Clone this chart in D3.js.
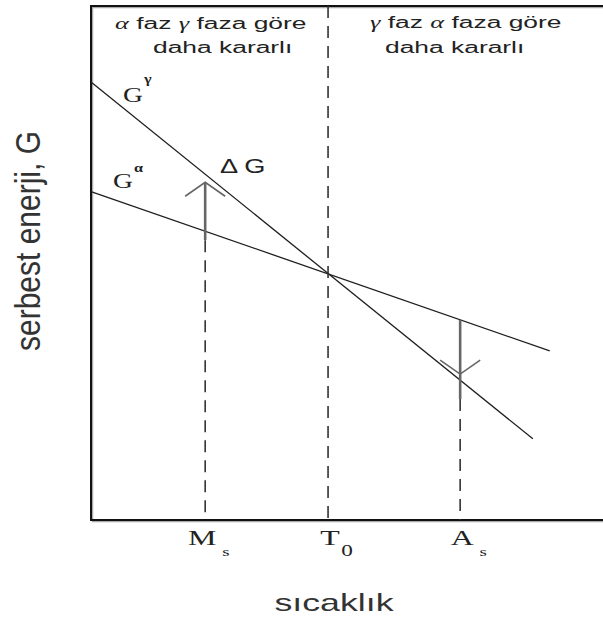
<!DOCTYPE html>
<html>
<head>
<meta charset="utf-8">
<script src="https://cdn.jsdelivr.net/npm/d3@7"></script>
<style>
  html, body { margin: 0; padding: 0; background: #fff; }
  svg { display: block; }
</style>
</head>
<body>
<svg id="chart" width="603" height="619"></svg>
<script>
// Temperature marks on the horizontal axis
const tickLetters = ["M", "T", "A"];
const tickSubs = ["s", "0", "s"];
const tickTemps = [22.3, 46.3, 72.1];

// Free energy lines, endpoints as [temperature, G]
const gammaTemps = [0, 86.3];
const gammaEnergy = [85.2, 15.8];
const alphaTemps = [0, 89.6];
const alphaEnergy = [63.9, 32.9];

// Region captions
const leftCaption = ["α faz γ faza göre", "daha kararlı"];
const rightCaption = ["γ faz α faza göre", "daha kararlı"];

const W = 603, H = 619;
const svg = d3.select("#chart");
const x = d3.scaleLinear().domain([0, 100]).range([91, W]);
const y = d3.scaleLinear().domain([0, 100]).range([520, 6]);

const ink = "#222";

// value of a straight G(T) line at temperature t
function lineAt(ts, gs, t) {
  return d3.scaleLinear().domain(ts).range(gs)(t);
}

// Frame: left, top and bottom edges, open on the right
const framePath = `M${W},${y(100)}H${x(0)}V${y(0)}H${W}`;
svg.append("path").attr("d", framePath)
  .attr("transform", "translate(1.5,1.5)")
  .attr("fill", "none").attr("stroke", "#aaa").attr("stroke-width", 1.5);
svg.append("path").attr("d", framePath)
  .attr("fill", "none").attr("stroke", "#111").attr("stroke-width", 2);

// Free energy curves
const line = d3.line().x(d => x(d[0])).y(d => y(d[1]));
svg.append("path")
  .attr("d", line(d3.zip(gammaTemps, gammaEnergy)))
  .attr("fill", "none").attr("stroke", "#1e1e1e").attr("stroke-width", 1.3);
svg.append("path")
  .attr("d", line(d3.zip(alphaTemps, alphaEnergy)))
  .attr("fill", "none").attr("stroke", "#1e1e1e").attr("stroke-width", 1.3);

// T0 guide across the whole plot
const t0 = tickTemps[1];
svg.append("line")
  .attr("x1", x(t0)).attr("x2", x(t0))
  .attr("y1", y(100)).attr("y2", y(0))
  .attr("stroke", "#333").attr("stroke-width", 1.6)
  .attr("stroke-dasharray", "12,8");

// Driving force arrows (ΔG) at Ms (upward) and As (downward)
const arrows = [
  { t: tickTemps[0], dir: -1, gap: 8, extend: 9 },
  { t: tickTemps[2], dir: 1, gap: 6, extend: 19 }
];
arrows.forEach(a => {
  const px = x(a.t);
  const ya = y(lineAt(alphaTemps, alphaEnergy, a.t));
  const yg = y(lineAt(gammaTemps, gammaEnergy, a.t));
  const lower = Math.max(ya, yg);
  const shaftTop = a.dir < 0 ? yg + a.gap : ya;
  const shaftBottom = lower + a.extend;
  const apex = a.dir < 0 ? yg + a.gap : yg - a.gap;

  // dashed drop line down to the axis
  svg.append("line")
    .attr("x1", px).attr("x2", px)
    .attr("y1", shaftBottom).attr("y2", y(0))
    .attr("stroke", "#333").attr("stroke-width", 1.6)
    .attr("stroke-dasharray", "12,8");

  svg.append("line")
    .attr("x1", px).attr("x2", px)
    .attr("y1", shaftTop).attr("y2", shaftBottom)
    .attr("stroke", "#666").attr("stroke-width", 2.6);

  const back = -a.dir * 14;
  svg.append("path")
    .attr("d", `M${px - 20},${apex + back}L${px},${apex}L${px + 20},${apex + back}`)
    .attr("fill", "none").attr("stroke", "#666").attr("stroke-width", 1.6);
});

// Horizontal axis labels with subscripts
tickTemps.forEach((t, i) => {
  const g = svg.append("g")
    .attr("transform", `translate(${x(t) + (i === 0 ? -3 : 2)},545) scale(1.45,1)`);
  const main = g.append("text")
    .attr("text-anchor", "middle")
    .attr("font-family", "'Liberation Serif', 'DejaVu Serif', serif")
    .attr("font-size", 22).attr("fill", ink)
    .text(tickLetters[i]);
  const w = main.node().getComputedTextLength();
  g.append("text")
    .attr("x", w / 2 + (i === 1 ? 1 : 4)).attr("y", 11)
    .attr("font-family", "'Liberation Serif', 'DejaVu Serif', serif")
    .attr("font-size", i === 1 ? 16 : 13).attr("fill", ink)
    .text(tickSubs[i]);
});

// Captions above the two regions
function caption(lines, pos) {
  lines.forEach((s, k) => {
    const t = svg.append("text")
      .attr("transform", `translate(${pos[k][0]},${pos[k][1]}) scale(1.65,1)`)
      .attr("font-family", "'Liberation Sans', Arial, sans-serif")
      .attr("font-size", 16).attr("fill", ink);
    // Greek letters set in italic serif
    s.split(/([αγ])/).forEach(part => {
      if (!part) return;
      const span = t.append("tspan").text(part);
      if (part === "α" || part === "γ") {
        span.attr("font-family", "'Liberation Serif', serif")
          .attr("font-style", "italic");
      }
    });
  });
}
caption(leftCaption, [[115, 29], [153, 53]]);
caption(rightCaption, [[370, 28], [385, 53]]);

// Curve labels
function gLabel(px, py, sup, dy) {
  const t = svg.append("text")
    .attr("transform", `translate(${px},${py}) scale(1.25,1)`)
    .attr("font-family", "'Liberation Serif', 'DejaVu Serif', serif")
    .attr("font-size", 22).attr("fill", ink);
  t.append("tspan").text("G");
  t.append("tspan").attr("dx", 1).attr("dy", dy)
    .attr("font-size", 13).attr("font-weight", "bold").text(sup);
}
gLabel(123, 102, "γ", -19);
gLabel(113, 188, "α", -16);

svg.append("text")
  .attr("transform", "translate(220,173) scale(1.36,1)")
  .attr("font-family", "'Liberation Sans', Arial, sans-serif")
  .attr("font-size", 20).attr("fill", ink)
  .text("Δ G");

// Axis titles
svg.append("text")
  .attr("transform", "translate(334,611) scale(1.49,1)")
  .attr("text-anchor", "middle")
  .attr("font-family", "'Liberation Sans', Arial, sans-serif")
  .attr("font-size", 24).attr("fill", "#333")
  .text("sıcaklık");

svg.append("text")
  .attr("transform", "translate(40,241) scale(1.17,1) rotate(-90)")
  .attr("text-anchor", "middle")
  .attr("font-family", "'Liberation Sans', Arial, sans-serif")
  .attr("font-size", 30).attr("fill", "#333")
  .text("serbest enerji, G");
</script>
</body>
</html>
